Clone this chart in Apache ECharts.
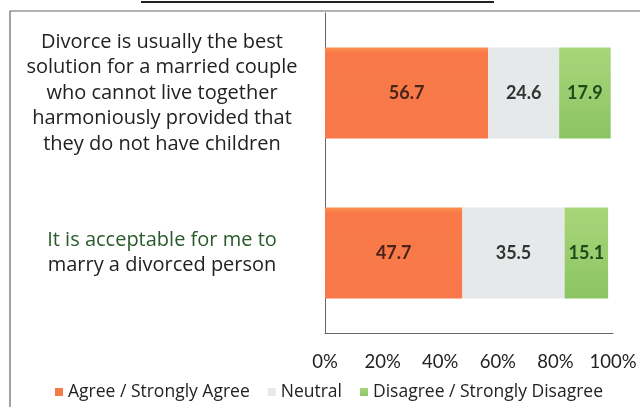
<!DOCTYPE html>
<html>
<head>
<meta charset="utf-8">
<script src="https://cdn.jsdelivr.net/npm/echarts@6/dist/echarts.min.js"></script>
<style>html,body{margin:0;padding:0;background:#fff;}#c{width:640px;height:407px;}</style>
</head>
<body>
<div id="c"></div>
<script>
var categories = [
  "{g|Divorce is usually the best}\n{g|solution for a married couple}\n{g|who cannot live together}\n{g|harmoniously provided that}\n{g|they do not have children}",
  "{gr|It is acceptable for me to}\n{g|marry a divorced person}"
];
var seriesNames = ["Agree / Strongly Agree", "Neutral", "Disagree / Strongly Disagree"];
var agree = [56.7, 47.7];
var neutral = [24.6, 35.5];
var disagree = [17.9, 15.1];
var tickLabels = ["0%", "20%", "40%", "60%", "80%", "100%"];

var FONT = "Lato";
var CAT_FONT = "Open Sans";
var chart = echarts.init(document.getElementById('c'), null, {renderer: 'canvas'});
function lbl(color) {
  return {show: true, position: 'inside', color: color, fontFamily: FONT, fontWeight: 'bold', fontSize: 18, formatter: function(p){ return p.value.toFixed(1); }};
}
chart.setOption({
  animation: false,
  backgroundColor: '#ffffff',
  grid: {left: 325, right: 27, top: 13, bottom: 74, containLabel: false},
  graphic: [
    {type: 'rect', shape: {x: 10, y: 11, width: 700, height: 500}, style: {fill: 'none', stroke: '#666', lineWidth: 1.2}, silent: true},
    {type: 'line', shape: {x1: 141, y1: 2, x2: 494, y2: 2}, style: {stroke: '#222', lineWidth: 2}, silent: true}
  ],
  legend: {
    bottom: 1, left: 50,
    itemWidth: 8, itemHeight: 8, itemGap: 18,
    icon: 'rect',
    textStyle: {fontFamily: CAT_FONT, fontSize: 17.5, color: '#222'},
    data: seriesNames
  },
  xAxis: {
    type: 'value', min: 0, max: 100, interval: 20,
    axisLine: {show: true, lineStyle: {color: '#666', width: 1}},
    axisTick: {show: false},
    splitLine: {show: false},
    axisLabel: {margin: 20, fontFamily: FONT, fontSize: 18.5, color: '#222',
      formatter: function(v){ return tickLabels[Math.round(v/20)]; }}
  },
  yAxis: {
    type: 'category', inverse: true, data: categories,
    axisLine: {show: true, lineStyle: {color: '#666', width: 1}},
    axisTick: {show: false},
    axisLabel: {margin: 163, align: 'center', fontFamily: CAT_FONT, fontSize: 20, lineHeight: 25.5, color: '#222',
      rich: {g: {fontFamily: CAT_FONT, fontSize: 20, lineHeight: 25.5, color: '#222'},
             gr: {fontFamily: CAT_FONT, fontSize: 20, lineHeight: 25.5, color: '#2a5a2a'}}}
  },
  series: [
    {name: seriesNames[0], type: 'bar', stack: 't', data: agree, barWidth: 91,
     itemStyle: {color: new echarts.graphic.LinearGradient(0,0,0,1,[{offset:0,color:'#fb9050'},{offset:0.06,color:'#f97a48'},{offset:1,color:'#f8784a'}])},
     label: lbl('#4a2418')},
    {name: seriesNames[1], type: 'bar', stack: 't', data: neutral,
     itemStyle: {color: '#e6e9ea'},
     label: lbl('#333')},
    {name: seriesNames[2], type: 'bar', stack: 't', data: disagree,
     itemStyle: {color: new echarts.graphic.LinearGradient(0,0,0,1,[{offset:0,color:'#a8d67a'},{offset:1,color:'#8cc463'}])},
     label: lbl('#1d4a1a')}
  ]
});
</script>
</body>
</html>
